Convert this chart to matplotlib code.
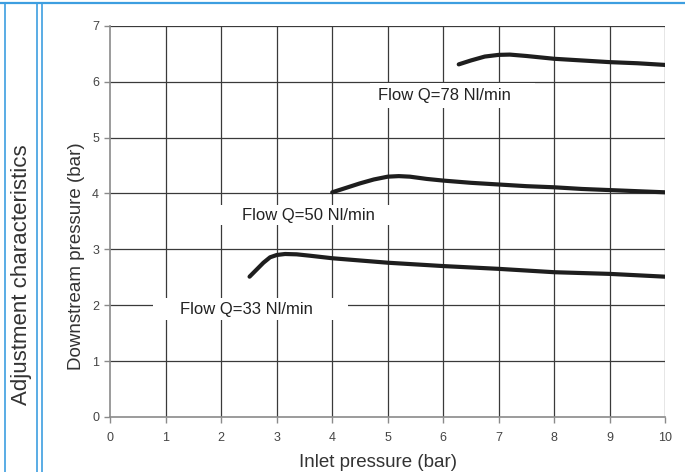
import matplotlib
matplotlib.use("Agg")
import matplotlib.pyplot as plt
from matplotlib.lines import Line2D
from matplotlib.patches import Rectangle

plt.rcParams['font.family'] = ['Liberation Sans', 'DejaVu Sans']

# Data
x_q33 = [2.51, 2.64, 2.76, 2.88, 3.0, 3.15, 3.36, 3.6, 4.0, 4.5, 5.0, 5.5, 6.0, 6.5, 7.0, 7.5, 8.0, 8.5, 9.0, 9.5, 10.0]
y_q33 = [2.51, 2.64, 2.76, 2.857, 2.898, 2.916, 2.91, 2.885, 2.84, 2.80, 2.76, 2.73, 2.70, 2.675, 2.65, 2.62, 2.59, 2.575, 2.56, 2.535, 2.51]
x_q50 = [4.0, 4.25, 4.5, 4.75, 5.0, 5.2, 5.4, 5.7, 6.0, 6.5, 7.0, 7.5, 8.0, 8.5, 9.0, 9.5, 10.0]
y_q50 = [4.02, 4.10, 4.18, 4.25, 4.30, 4.31, 4.30, 4.26, 4.23, 4.19, 4.16, 4.13, 4.11, 4.08, 4.06, 4.04, 4.02]
x_q78 = [6.28, 6.5, 6.75, 7.0, 7.2, 7.5, 8.0, 8.5, 9.0, 9.5, 10.0]
y_q78 = [6.31, 6.38, 6.45, 6.48, 6.485, 6.46, 6.41, 6.38, 6.35, 6.33, 6.30]
labels = ["Flow Q=33 Nl/min", "Flow Q=50 Nl/min", "Flow Q=78 Nl/min"]
label_pos = [(2.46, 1.93), (3.58, 3.60), (6.03, 5.76)]
label_boxes = [(0.77, 1.73, 3.52, 0.40), (1.9, 3.43, 3.15, 0.36), (4.68, 5.53, 2.97, 0.44)]
x_ticks = list(range(0, 11))
y_ticks = list(range(0, 8))

fig = plt.figure(figsize=(6.85, 4.72), dpi=100)
ax = fig.add_axes([0.161, 0.1167, 0.810, 0.8286])

grid_c = '#3a3a3a'
for xv in x_ticks[1:]:
    ax.axvline(xv, color=grid_c, lw=0.9, zorder=1)
for yv in y_ticks[1:]:
    ax.axhline(yv, color=grid_c, lw=0.9, zorder=1)

for (bx, by, bw, bh) in label_boxes:
    ax.add_patch(Rectangle((bx, by), bw, bh, facecolor='white', edgecolor='none', zorder=2))
for txt, (tx, ty) in zip(labels, label_pos):
    ax.text(tx, ty, txt, ha='center', va='center', fontsize=12, color='#222222', zorder=3)

curve_kw = dict(color='#1e1e1e', lw=3.0, solid_capstyle='round', solid_joinstyle='round', zorder=4)
ax.plot(x_q33, y_q33, **curve_kw)
ax.plot(x_q50, y_q50, **curve_kw)
ax.plot(x_q78, y_q78, **curve_kw)

ax.set_xlim(0, 10)
ax.set_ylim(0, 7)
ax.set_xticks(x_ticks)
ax.set_yticks(y_ticks)
for s in ['top', 'right']:
    ax.spines[s].set_visible(False)
for s in ['left', 'bottom']:
    ax.spines[s].set_color('#8a8a8a')
    ax.spines[s].set_linewidth(1.2)
ax.tick_params(axis='both', direction='out', length=4, width=1, color='#8a8a8a',
               labelsize=9, labelcolor='#444444')
ax.tick_params(axis='x', pad=7)
ax.tick_params(axis='y', pad=4)
ax.set_xlabel('Inlet pressure (bar)', fontsize=13.5, color='#333333')
ax.set_ylabel('Downstream pressure (bar)', fontsize=13.5, color='#333333')
ax.xaxis.set_label_coords((378 - 110.2) / 555, -(462 - 416.9) / 391.1)
ax.yaxis.set_label_coords(-(110.2 - 76) / 555, (416.9 - 256) / 391.1)
ax.xaxis.label.set_va('center')
ax.yaxis.label.set_va('center')

fig.text(21.5 / 685, 1 - 275 / 472, 'Adjustment characteristics', rotation=90,
         ha='center', va='center', fontsize=16, color='#333333')

blue = '#3d9ee0'
fig.add_artist(Line2D([0, 1], [1 - 3 / 472, 1 - 3 / 472], color=blue, lw=1.6))
for px in [4.5, 36.7, 42.3]:
    fig.add_artist(Line2D([px / 685, px / 685], [0, 1 - 3 / 472], color=blue, lw=1.2))

fig.savefig('out.png', dpi=100)
